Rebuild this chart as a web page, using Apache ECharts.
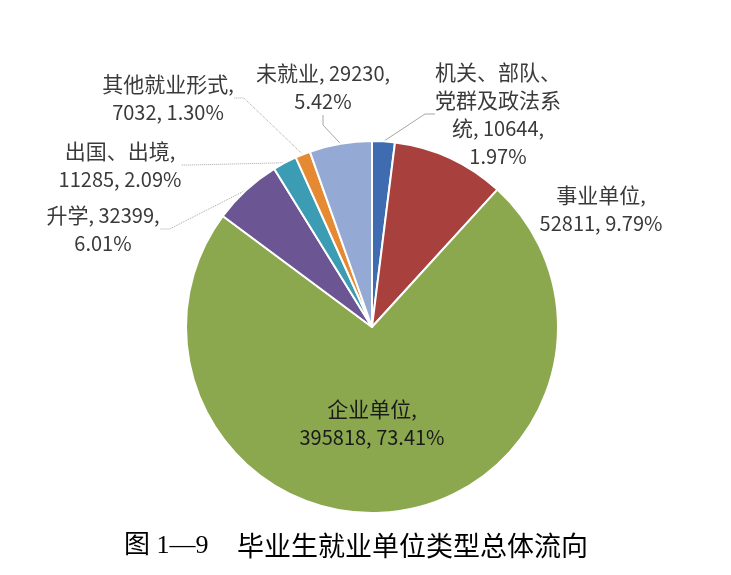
<!DOCTYPE html>
<html>
<head>
<meta charset="utf-8">
<script src="https://cdn.jsdelivr.net/npm/echarts@6/dist/echarts.min.js"></script>
<style>html,body{margin:0;padding:0;background:#fff;}#main{width:731px;height:575px;}</style>
</head>
<body>
<div id="main"></div>
<script>
const names = ['机关、部队、\n党群及政法系\n统', '事业单位', '企业单位', '升学', '出国、出境', '其他就业形式', '未就业'];
const values = [10644, 52811, 395818, 32399, 11285, 7032, 29230];
const colors = ['#3F6CB0', '#A8403E', '#8BA84F', '#6B5593', '#3C9CB4', '#E58A33', '#94A9D4'];
// separator after name / after value for each label
const sepName = [', ', ',\n', ',\n', ', ', ',\n', ',\n', ', '];
const sepValue = [',\n', ', ', ', ', ',\n', ', ', ', ', ',\n'];
const captionFig = '图 1—9';
const captionText = '毕业生就业单位类型总体流向';

const total = values.reduce((a, b) => a + b, 0);
const labelPos = [[498, 114], [601, 209], [372, 423], [103, 229], [120, 165], [168, 98], [323, 87]];
const lineTypes = ['solid', null, null, 'dotted', 'dotted', 'dotted', 'solid'];

const data = values.map((v, i) => {
  const item = { name: names[i], value: v, itemStyle: { color: colors[i] } };
  if (lineTypes[i] === null) {
    item.labelLine = { show: false };
  } else {
    item.labelLine = { show: true, lineStyle: { type: lineTypes[i] } };
  }
  return item;
});

function richStyles(color) {
  return {
    cn: { fontFamily: 'Noto Sans CJK SC', fontSize: 21, lineHeight: 28, color: color },
    n: { fontFamily: 'Noto Sans CJK SC', fontSize: 20, lineHeight: 28, color: color }
  };
}
data[2].label = { rich: richStyles('#1a1a1a') };

const chart = echarts.init(document.getElementById('main'), null, { renderer: 'canvas' });
chart.setOption({
  backgroundColor: '#ffffff',
  animation: false,
  series: [{
    type: 'pie',
    center: [372, 327],
    radius: 186,
    startAngle: 90,
    clockwise: true,
    data: data,
    itemStyle: { borderColor: '#ffffff', borderWidth: 2 },
    label: {
      show: true,
      position: 'outside',
      fontFamily: 'Noto Sans CJK SC',
      fontSize: 20,
      lineHeight: 28,
      color: '#3a3a3a',
      align: 'center',
      rich: richStyles('#3a3a3a'),
      formatter: function (p) {
        const i = p.dataIndex;
        const pct = (values[i] / total * 100).toFixed(2);
        const nameLines = names[i].split('\n').map(s => '{cn|' + s + '}');
        const tail = (sepName[i] + values[i] + sepValue[i] + pct + '%').split('\n').map(s => s ? '{n|' + s + '}' : '');
        // merge last name line with first tail segment
        const last = nameLines.pop();
        const lines = nameLines.concat([last + tail[0]]).concat(tail.slice(1));
        return lines.join('\n');
      }
    },
    labelLine: {
      show: true,
      length: 10,
      length2: 10,
      lineStyle: { color: '#a6a6a6', width: 1 }
    },
    labelLayout: function (params) {
      const pos = labelPos[params.dataIndex];
      return { x: pos[0], y: pos[1], align: 'center', verticalAlign: 'middle' };
    }
  }],
  graphic: [{
    type: 'text',
    x: 124,
    y: 546,
    style: {
      text: captionFig,
      fontFamily: 'Liberation Serif, Noto Sans CJK SC',
      fontSize: 26,
      fill: '#000000',
      verticalAlign: 'middle'
    }
  }, {
    type: 'text',
    x: 237,
    y: 546,
    style: {
      text: captionText,
      fontFamily: 'Noto Sans CJK SC',
      fontSize: 27,
      fill: '#000000',
      verticalAlign: 'middle'
    }
  }]
});
</script>
</body>
</html>
